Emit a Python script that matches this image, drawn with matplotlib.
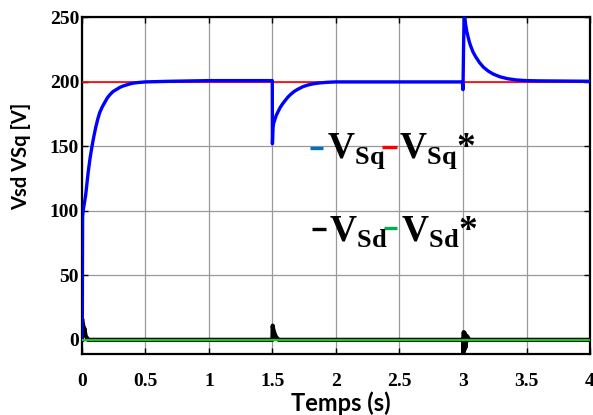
import numpy as np
import matplotlib
matplotlib.use("Agg")
import matplotlib.pyplot as plt
from matplotlib.lines import Line2D

plt.rcParams["mathtext.fontset"] = "custom"
plt.rcParams["mathtext.bf"] = "Liberation Serif:bold"
plt.rcParams["mathtext.rm"] = "Liberation Serif:bold"

# Vsq (blue)
vsq_t = [0, 0.004, 0.006, 0.01, 0.02, 0.03, 0.04, 0.05, 0.065, 0.08, 0.095,
         0.11, 0.125, 0.14, 0.16, 0.18, 0.2, 0.22, 0.245, 0.27, 0.3, 0.33,
         0.37, 0.4, 0.45, 0.5, 0.7, 1.0, 1.3, 1.499,
         1.5, 1.505, 1.51, 1.52, 1.53, 1.545, 1.56, 1.58, 1.6, 1.62, 1.64,
         1.67, 1.7, 1.74, 1.78, 1.82, 1.87, 1.93, 2.0, 2.5, 2.995,
         3.0, 3.005, 3.01, 3.02, 3.03, 3.04, 3.05, 3.06, 3.08, 3.1, 3.13,
         3.16, 3.2, 3.24, 3.29, 3.35, 3.42, 3.5, 3.6, 4.0]
vsq_v = [0, 20, 95, 100, 106, 112, 121, 130, 141, 150, 158,
         165, 171, 176, 180.5, 184, 187.5, 190, 192.5, 194, 195.8, 197,
         198.2, 199, 199.6, 200, 200.5, 201, 201, 201,
         152, 165, 168, 171, 174, 177, 180, 183, 185.5, 188, 190,
         192.5, 194.3, 196.3, 197.6, 198.5, 199.2, 199.7, 200, 200, 200,
         194, 230, 255, 245, 239, 235, 231, 228, 223, 219.5, 215,
         211.5, 208.3, 206, 204, 202.5, 201.5, 201, 200.8, 200.5]

# Vsq* reference (red)
vsq_ref_t = [0, 4]
vsq_ref_v = [200, 200]

# Vsd (black)
vsd_t = [0, 0.003, 0.006, 0.01, 0.015, 0.02, 0.03, 0.05, 1.5, 1.502, 1.505,
         1.51, 1.52, 1.53, 1.55, 3.0, 3.003, 3.006, 3.01, 3.015, 3.02, 3.03,
         3.05, 4.0]
vsd_v = [0, 16, 10, 12, 6, 9, 3, 0, 0, 11, 9,
         7, 4, 2, 0, 0, -10, 6, -8, 5, -6, 3,
         0, 0]

# Vsd* reference (green)
vsd_ref_t = [0, 4]
vsd_ref_v = [0, 0]

xticks = [0, 0.5, 1, 1.5, 2, 2.5, 3, 3.5, 4]
xticklabels = ["0", "0.5", "1", "1.5", "2", "2.5", "3", "3.5", "4"]
yticks = [0, 50, 100, 150, 200, 250]

fig = plt.figure(figsize=(5.93, 4.15), dpi=100)
ax = fig.add_axes([0.138, 0.147, 0.857, 0.811])

ax.plot(vsq_ref_t, vsq_ref_v, color="#FF0000", lw=1.2, zorder=3)
ax.plot(vsq_t, vsq_v, color="#0000FF", lw=2.4, zorder=4)
ax.plot(vsd_t, vsd_v, color="black", lw=3.0, zorder=3)
ax.plot(vsd_ref_t, vsd_ref_v, color="#00DD00", lw=1.4, zorder=4)

ax.set_xlim(0, 4)
ax.set_ylim(-11, 250)
ax.set_xticks(xticks)
ax.set_xticklabels(xticklabels)
ax.set_yticks(yticks)
ax.grid(True, color="#999999", lw=0.9)
ax.tick_params(direction="in", top=True, right=True, length=4, width=1,
               labelsize=14, pad=2)
ax.tick_params(axis="x", pad=14)
for lab in ax.get_xticklabels() + ax.get_yticklabels():
    lab.set_fontfamily("Liberation Serif")
    lab.set_fontweight("bold")
for s in ax.spines.values():
    s.set_linewidth(1.6)

fig.text(0.575, 0.029, "Temps (s)", ha="center", va="center", fontsize=17,
         fontweight="bold", family="Lato")
fig.text(0.035, 0.624, "Vsd VSq [V]", ha="center", va="center", fontsize=14.5,
         fontweight="bold", family="Lato", rotation=90)

# legend made of coloured dashes and labels
W, H = 593.0, 415.0
def dash(x0, x1, y, c):
    fig.add_artist(Line2D([x0 / W, x1 / W], [1 - y / H, 1 - y / H],
                          color=c, lw=2.4, solid_capstyle="butt"))

def label(x, y, sub, star=""):
    fig.text(x / W, 1 - y / H, r"$\mathbf{V}_{\mathbf{%s}}$%s" % (sub, star),
             fontsize=27, family="Liberation Serif", fontweight="bold",
             ha="left", va="baseline")

dash(310, 323, 148, "#0072BD")
label(327, 158, "Sq")
dash(382, 397, 147, "#FF0000")
label(399, 158, "Sq", "*")
dash(312, 326, 229, "black")
label(329, 242, "Sd")
dash(384, 397, 228, "#00B050")
label(401, 242, "Sd", "*")

fig.savefig("out.png", dpi=100)
